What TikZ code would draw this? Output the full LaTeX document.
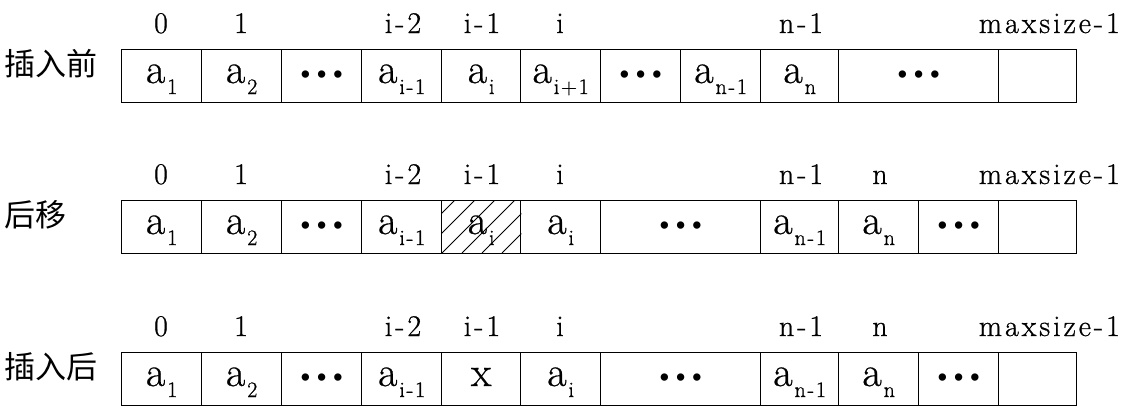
\documentclass[tikz,border=0pt]{standalone}
\usepackage{fontspec}
\newfontfamily\monof{Liberation Mono}
\newfontfamily\romf[LetterSpace=10,FakeBold=0.8]{Latin Modern Roman}
\newfontfamily\romvf[FakeBold=0.6]{Latin Modern Roman}
\newfontfamily\romsf[LetterSpace=8,FakeBold=0.8]{Latin Modern Roman}
\newfontfamily\cjkf{Noto Sans CJK SC}
\newcommand\idxfont{\romf\fontsize{30}{30}\selectfont}
\newcommand\valfont{\romvf\fontsize{42}{42}\selectfont}
\newcommand\subf{\romsf\fontsize{22}{22}\selectfont}
\newcommand\av[1]{a\kern2pt\raisebox{-11pt}{\subf #1}}
\newcommand\dotsx{{\monof\fontsize{27}{27}\selectfont •••}}
\begin{document}
\begin{tikzpicture}[x=1pt,y=-1pt,
  cell/.style={draw, line width=1.3pt, rectangle, inner sep=0pt, minimum height=53pt, anchor=north west},
  idx/.style={anchor=base, inner sep=0pt, font=\idxfont},
  val/.style={anchor=base, inner sep=0pt, font=\valfont},
  lab/.style={anchor=west, inner sep=0pt, font=\cjkf\fontsize{31}{31}\selectfont},
  hatch/.style={line width=0.8pt}]
\useasboundingbox (0,0) rectangle (1126,415);
% row 1
\node[lab] (L1) at (4,64) {插入前};
\foreach \l/\r/\t [count=\i] in {121/201/{\av{1}},201/281/{\av{2}},281/361/{\dotsx},361/441/{\av{i-1}},441/520/{\av{i}},520/600/{\av{i+1}},600/680/{\dotsx},680/760/{\av{n-1}},760/838/{\av{n}},838/998/{\dotsx},998/1076/{}}{
  \node[cell, minimum width={(\r-\l)*1pt}] (A\i) at (\l,49) {};
  \node[val] (Av\i) at ([yshift=-34pt]A\i.north) {\t};
}
\foreach \x/\t [count=\i] in {161/0,241/1,403/i-2,482/i-1,560/i,801/n-1}{
  \node[idx] (Ai\i) at (\x,33) {\t};
}
\node[idx, anchor=base east] (Aim) at (1120,33) {maxsize-1};
% row 2
\node[lab] (L2) at (4,215) {后移};
\foreach \l/\r/\t [count=\i] in {121/201/{\av{1}},201/281/{\av{2}},281/361/{\dotsx},361/441/{\av{i-1}},441/520/{},520/600/{\av{i}},600/760/{\dotsx},760/838/{\av{n-1}},838/918/{\av{n}},918/998/{\dotsx},998/1076/{}}{
  \node[cell, minimum width={(\r-\l)*1pt}] (B\i) at (\l,200) {};
  \node[val] (Bv\i) at ([yshift=-34pt]B\i.north) {\t};
}
\begin{scope}
  \clip (B5.north west) rectangle (B5.south east);
  \foreach \k in {0,...,5}{
    \draw[hatch] (402+20*\k,253) -- (455+20*\k,200);
  }
\end{scope}
\node[val] (Bh) at ([yshift=-34pt]B5.north) {\av{i}};
\foreach \x/\t [count=\i] in {161/0,241/1,403/i-2,482/i-1,560/i,801/n-1,880/n}{
  \node[idx] (Bi\i) at (\x,184) {\t};
}
\node[idx, anchor=base east] (Bim) at (1120,184) {maxsize-1};
% row 3
\node[lab] (L3) at (4,367) {插入后};
\foreach \l/\r/\t [count=\i] in {121/201/{\av{1}},201/281/{\av{2}},281/361/{\dotsx},361/441/{\av{i-1}},441/520/{x},520/600/{\av{i}},600/760/{\dotsx},760/838/{\av{n-1}},838/918/{\av{n}},918/998/{\dotsx},998/1076/{}}{
  \node[cell, minimum width={(\r-\l)*1pt}] (C\i) at (\l,352) {};
  \node[val] (Cv\i) at ([yshift=-34pt]C\i.north) {\t};
}
\foreach \x/\t [count=\i] in {161/0,241/1,403/i-2,482/i-1,560/i,801/n-1,880/n}{
  \node[idx] (Ci\i) at (\x,336) {\t};
}
\node[idx, anchor=base east] (Cim) at (1120,336) {maxsize-1};
\end{tikzpicture}
\end{document}
